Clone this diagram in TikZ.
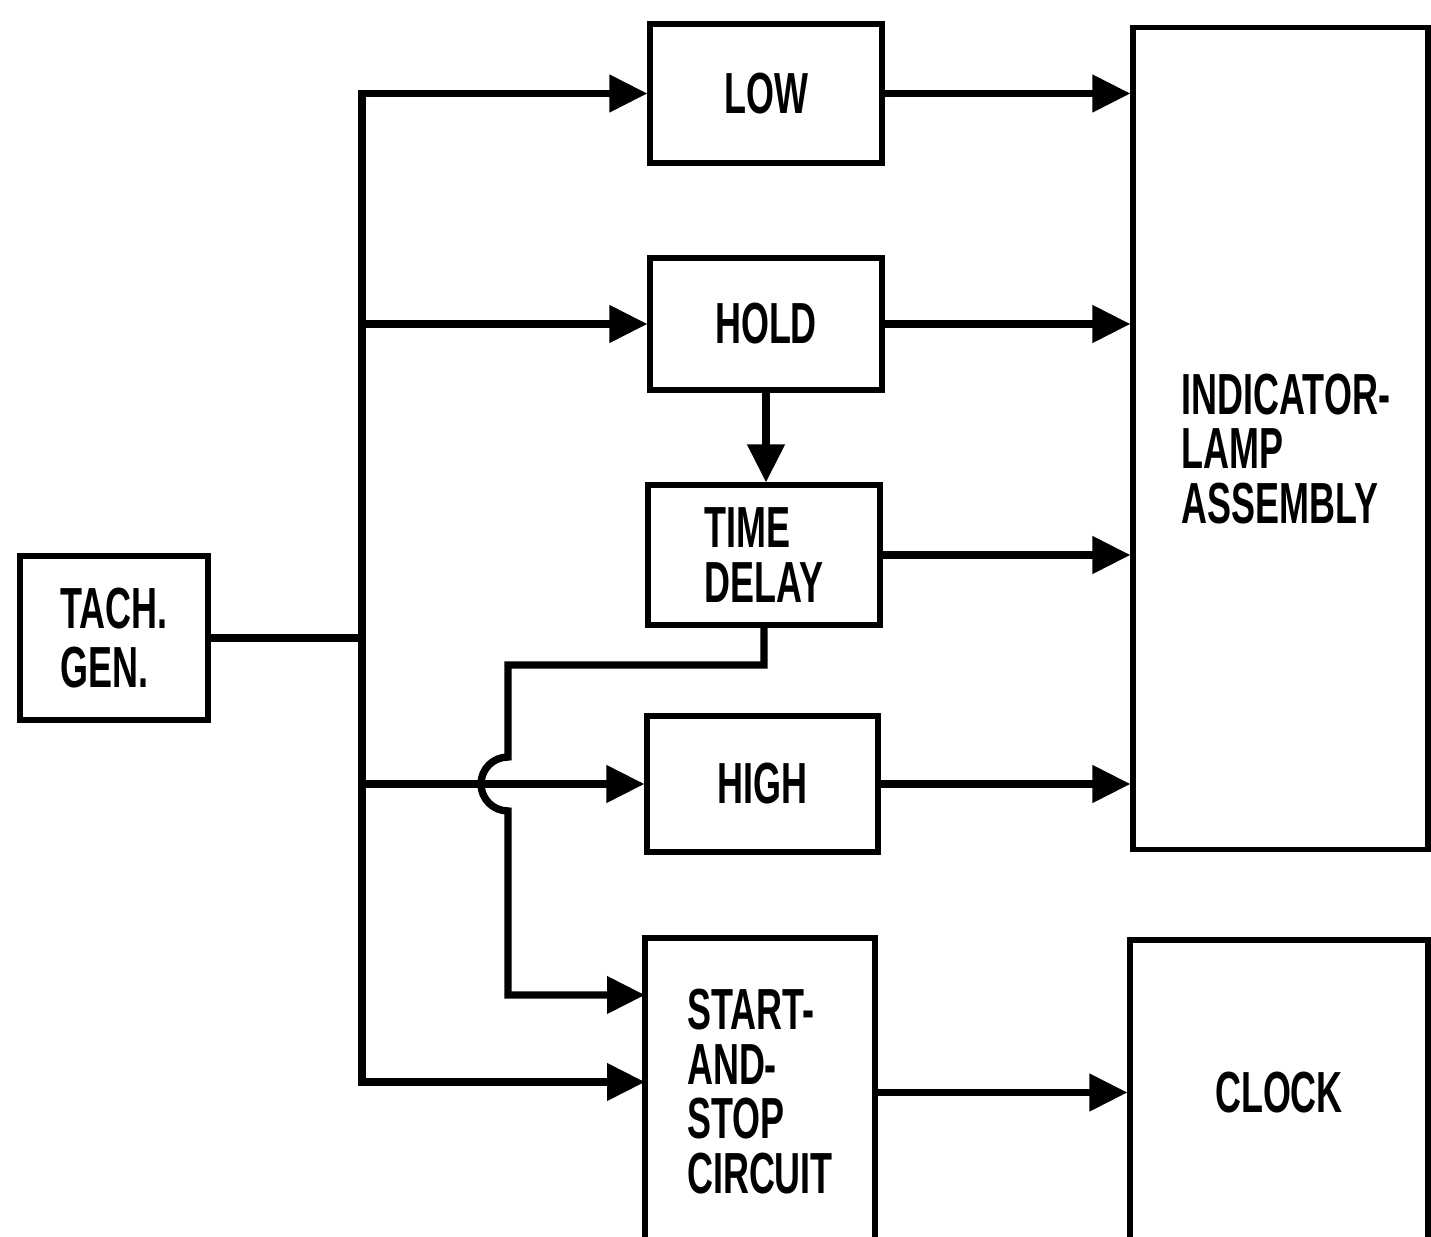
\documentclass[tikz,border=0pt]{standalone}
\usepackage{fontspec}
\newfontfamily\labfont{Liberation Sans}[FakeStretch=0.62]
\usetikzlibrary{arrows.meta}
\tikzset{
  box/.style={draw=black, line width=2.9pt, rectangle, inner sep=0pt, align=left,
              font=\labfont\bfseries\fontsize{33}{28.5}\selectfont},
  lab/.style={inner sep=0pt, align=left, font=\labfont\bfseries\fontsize{33}{28.5}\selectfont},
  conn/.style={line width=4.2pt},
  tip/.tip={Triangle[length=0.76cm,width=0.72cm]},
  arr/.style={conn, -tip},
}
\begin{document}
\begin{tikzpicture}[x=0.02cm, y=-0.02cm]
\useasboundingbox[fill=white] (0,0) rectangle (1431,1237);
% boxes
\node[box, minimum width=3.76cm, minimum height=3.28cm] (tach) at (114,638) {TACH.\\[5pt]GEN.};
\node[box, minimum width=4.64cm, minimum height=2.78cm] (low) at (766,93.5) {LOW};
\node[box, minimum width=4.64cm, minimum height=2.64cm] (hold) at (766,324) {HOLD};
\node[box, minimum width=4.64cm, minimum height=2.80cm] (td) at (764,555) {TIME\\[3pt]DELAY};
\node[box, minimum width=4.62cm, minimum height=2.72cm] (high) at (762.5,784) {HIGH};
\node[box, minimum width=4.60cm, minimum height=6.14cm] (start) at (760,1091.5) {START-\\[2.5pt]AND-\\[2.5pt]STOP\\[2.5pt]CIRCUIT};
\node[box, minimum width=5.90cm, minimum height=16.46cm] (ind) at (1280.5,438.5) {};
\node[lab] (indlab) at (1286,449) {INDICATOR-\\[2.5pt]LAMP\\[2.5pt]ASSEMBLY};
\node[box, minimum width=5.96cm, minimum height=6.10cm] (clock) at (1279,1092.5) {CLOCK};
% coordinates
\coordinate (bus) at (362,0);
\coordinate (sIn1) at (645,995);
\coordinate (sIn2) at (645,1082);
\coordinate (jog) at (508,665);
\coordinate (hopTop) at (508,757);
% bus with top and bottom branches
\draw[conn, tip-tip] (low.west) -- (low.west -| bus) -- (sIn2 -| bus) -- (sIn2);
\draw[conn] (tach.east) -- (tach.east -| bus);
\draw[arr] (hold.west -| bus) -- (hold.west);
\draw[arr] (high.west -| bus) -- (high.west);
% hold to time delay
\draw[arr] (hold.south) -- (hold.south |- td.north);
% time delay to start, hopping over the HIGH line
\draw[arr] (td.south) |- (jog) -- (hopTop) arc[start angle=90, end angle=270, radius=0.54cm] -- (sIn1 -| jog) -- (sIn1);
% outputs
\draw[arr] (low.east) -- (low.east -| ind.west);
\draw[arr] (hold.east) -- (hold.east -| ind.west);
\draw[arr] (td.east) -- (td.east -| ind.west);
\draw[arr] (high.east) -- (high.east -| ind.west);
\draw[arr] (clock.west -| start.east) -- (clock.west);
\end{tikzpicture}
\end{document}
